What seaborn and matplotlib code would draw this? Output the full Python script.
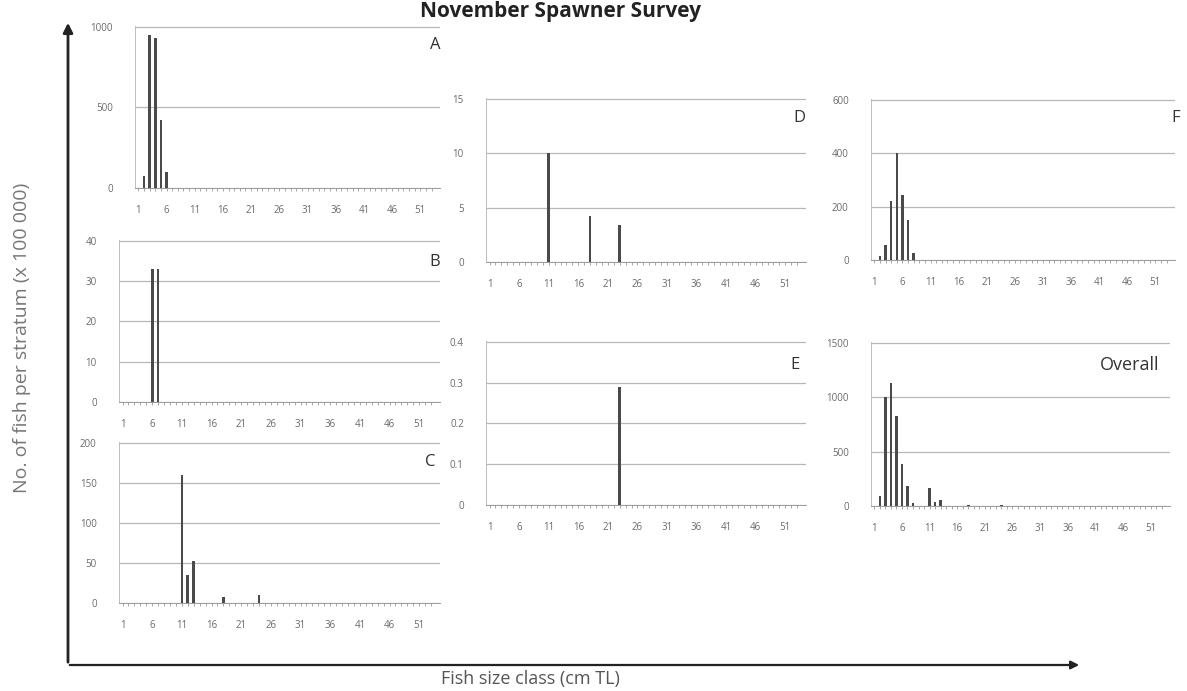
import numpy as np
import pandas as pd
import matplotlib
matplotlib.use("Agg")
import matplotlib.pyplot as plt
from matplotlib.patches import FancyArrowPatch
import seaborn as sns

sns.set_theme(style="white")
plt.rcParams['font.family'] = ['Open Sans', 'DejaVu Sans']

# ---------------- data ----------------
size_classes = list(range(1, 54))          # fish size class (cm TL)
tick_classes = list(range(1, 52, 5))       # 1, 6, 11, ... 51

a_classes = [2, 3, 4, 5, 6]
a_counts = [75, 950, 930, 420, 100]

b_classes = [6, 7]
b_counts = [33, 33]

c_classes = [11, 12, 13, 18, 24]
c_counts = [160, 35, 53, 7, 10]

d_classes = [11, 18, 23]
d_counts = [10, 4.2, 3.4]

e_classes = [23]
e_counts = [0.29]

f_classes = [2, 3, 4, 5, 6, 7, 8]
f_counts = [15, 55, 220, 400, 245, 150, 25]

overall_classes = [2, 3, 4, 5, 6, 7, 8, 11, 12, 13, 18, 24]
overall_counts = [95, 1000, 1135, 830, 385, 180, 30, 165, 35, 55, 10, 10]

a_yticks = [0, 500, 1000]
b_yticks = [0, 10, 20, 30, 40]
c_yticks = [0, 50, 100, 150, 200]
d_yticks = [0, 5, 10, 15]
e_yticks = [0, 0.1, 0.2, 0.3, 0.4]
f_yticks = [0, 200, 400, 600]
overall_yticks = [0, 500, 1000, 1500]

panel_names = ["A", "B", "C", "D", "E", "F", "Overall"]

# ---------------- layout ----------------
W, H = 1187, 691
fig = plt.figure(figsize=(W / 100, H / 100), dpi=100)
fig.patch.set_facecolor("white")


def rect(l, r, t, b):
    return [l / W, 1 - b / H, (r - l) / W, (b - t) / H]


panels = [
    (a_classes, a_counts, a_yticks, rect(135, 440, 26, 188), (440, 45), 12),
    (b_classes, b_counts, b_yticks, rect(119, 440, 240, 402), (440, 262), 12),
    (c_classes, c_counts, c_yticks, rect(119, 440, 442, 603), (436, 462), 12),
    (d_classes, d_counts, d_yticks, rect(486, 806, 98, 262), (805, 118), 12),
    (e_classes, e_counts, e_yticks, rect(486, 806, 341, 505), (800, 365), 12),
    (f_classes, f_counts, f_yticks, rect(871, 1175, 99, 260), (1180, 118), 12),
    (overall_classes, overall_counts, overall_yticks, rect(871, 1170, 342, 506), (1130, 365), 13),
]

bar_color = "#4a4a4a"
grid_color = "#b8b8b8"
text_grey = "#6a6a6a"

for name, (cls, cnt, yt, r, lab_pos, lab_fs) in zip(panel_names, panels):
    ax = fig.add_axes(r)
    full = dict(zip(cls, cnt))
    df = pd.DataFrame({
        "size": size_classes,
        "count": [full.get(s, 0) for s in size_classes],
    })
    sns.barplot(data=df, x="size", y="count", order=size_classes,
                color=bar_color, width=0.45, errorbar=None, ax=ax,
                saturation=1, linewidth=0)
    ax.set_xlim(-0.6, 53.5)
    ax.set_ylim(0, yt[-1] * 1.005)
    ax.set_yticks(yt)
    ax.set_yticklabels([("%g" % v) for v in yt], fontsize=7, color=text_grey)
    ax.set_xticks([size_classes.index(t) for t in tick_classes])
    ax.set_xticklabels([str(t) for t in tick_classes], fontsize=7, color=text_grey)
    ax.set_xticks(range(len(size_classes)), minor=True)
    ax.tick_params(axis="x", which="both", bottom=True, length=2, width=0.6,
                   color="#999999", pad=10)
    ax.tick_params(axis="y", which="both", left=False, pad=10)
    ax.set_xlabel("")
    ax.set_ylabel("")
    ax.yaxis.grid(True, color=grid_color, linewidth=0.9)
    ax.xaxis.grid(False)
    ax.set_axisbelow(True)
    for s in ["top", "right"]:
        ax.spines[s].set_visible(False)
    ax.spines["left"].set_color("#bdbdbd")
    ax.spines["left"].set_linewidth(0.7)
    ax.spines["bottom"].set_color("#9a9a9a")
    ax.spines["bottom"].set_linewidth(0.7)
    ax.set_facecolor("none")
    fig.text(lab_pos[0] / W, 1 - lab_pos[1] / H, name, fontsize=lab_fs,
             ha="right" if name != "Overall" else "center", va="center",
             color="#333333")

# big outer axes with arrows
fig.add_artist(FancyArrowPatch((68 / W, 1 - 665 / H), (68 / W, 1 - 20 / H),
                               transform=fig.transFigure, arrowstyle="-|>",
                               mutation_scale=14, color="#222222", lw=2))
fig.add_artist(FancyArrowPatch((67 / W, 1 - 665 / H), (1082 / W, 1 - 665 / H),
                               transform=fig.transFigure, arrowstyle="-|>",
                               mutation_scale=12, color="#222222", lw=1.6))

fig.text(22 / W, 1 - 338 / H, "No. of fish per stratum (x 100 000)",
         rotation=90, ha="center", va="center", fontsize=14, color="#777777")
fig.text(530 / W, 1 - 679 / H, "Fish size class (cm TL)",
         ha="center", va="center", fontsize=13, color="#555555")
fig.text(560 / W, 0.999, "November Spawner Survey", ha="center", va="top",
         fontsize=15, fontweight="bold", color="#222222")

fig.savefig("out.png", dpi=100, facecolor="white")
